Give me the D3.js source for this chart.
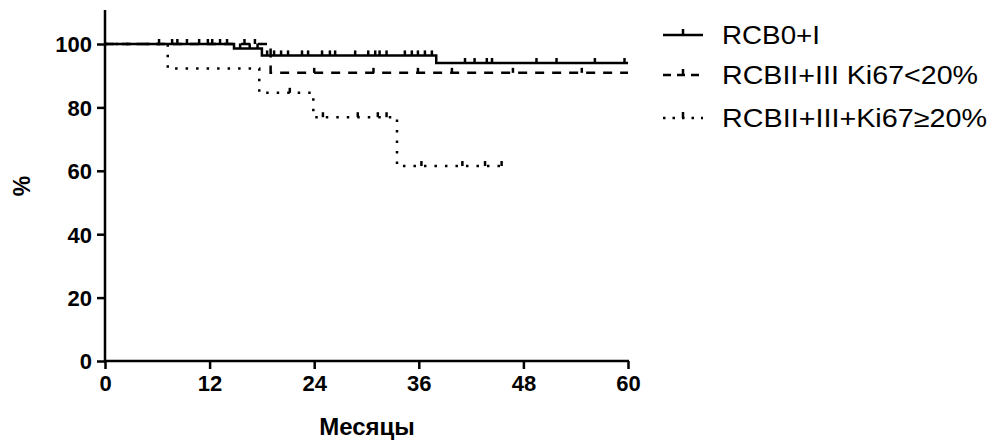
<!DOCTYPE html>
<html><head><meta charset="utf-8">
<script src="https://cdn.jsdelivr.net/npm/d3@7"></script>
<style>body{margin:0;background:#fff}svg{display:block}text{font-family:"Liberation Sans",Arial,sans-serif;fill:#000}</style>
</head><body><svg id="c" width="993" height="443"></svg>
<script>
const xTicks = [0, 12, 24, 36, 48, 60];
const yTicks = [0, 20, 40, 60, 80, 100];
const seriesNames = ["RCB0+I", "RCBII+III Ki67<20%", "RCBII+III+Ki67≥20%"];
// step events: time of drop, survival after drop
const s1Times = [14.8, 18.0, 38.0];
const s1Values = [98.6, 96.4, 94.0];
const s1Censor = [6.2, 7.7, 8.3, 9.4, 10.8, 11.8, 12.3, 13.2, 14.0, 15.5, 16.6, 17.5, 18.6, 19.4, 20.2, 21.0, 22.6, 23.3, 24.9, 25.8, 26.4, 28.7, 30.2, 31.0, 31.5, 32.3, 34.4, 35.2, 35.9, 36.7, 37.5, 41.3, 42.4, 43.8, 44.4, 49.5, 51.8, 56.2, 59.6];
const s1End = 60;
const s2Times = [19.0];
const s2Values = [90.9];
const s2Censor = [16.0, 17.2, 24.0, 30.8, 35.9, 39.8, 46.8, 54.7];
const s2End = 60;
const s3Times = [7.2, 17.7, 23.9, 33.5];
const s3Values = [92.3, 84.6, 76.9, 61.5];
const s3Censor = [21.2, 25.0, 29.0, 31.3, 32.3, 36.3, 41.0, 43.6, 45.5];
const s3End = 45.5;

const series = [
  {name: seriesNames[0], times: s1Times, values: s1Values, censor: s1Censor, end: s1End, dash: null, legDash: null, legLen: 98},
  {name: seriesNames[1], times: s2Times, values: s2Values, censor: s2Censor, end: s2End, dash: "9,8", legDash: "8,6", legLen: 256},
  {name: seriesNames[2], times: s3Times, values: s3Values, censor: s3Censor, end: s3End, dash: "2.5,8", legDash: "2.5,7", legLen: 265}
];

const svg = d3.select("#c");
const x = d3.scaleLinear().domain([0, 60]).range([105, 628]);
const y = d3.scaleLinear().domain([0, 100]).range([361, 44]);

const xAxis = svg.append("g").attr("transform", "translate(0,361)")
  .call(d3.axisBottom(x).tickValues(xTicks).tickSize(8).tickPadding(5));
const yAxis = svg.append("g").attr("transform", "translate(105,0)")
  .call(d3.axisLeft(y).tickValues(yTicks).tickSize(8).tickPadding(5));
[xAxis, yAxis].forEach(a => {
  a.select(".domain").remove();
  a.selectAll("line").attr("stroke", "#000").attr("stroke-width", 2.5);
  a.selectAll("text").attr("font-size", 22).attr("font-weight", "bold").attr("fill", "#000");
});
xAxis.selectAll("text").attr("dy", "0.75em");
yAxis.selectAll("text").attr("dy", "0.36em");
svg.append("line").attr("x1", 105).attr("x2", 105).attr("y1", 10).attr("y2", 362)
  .attr("stroke", "#000").attr("stroke-width", 2.5);
svg.append("line").attr("x1", 104).attr("x2", 629).attr("y1", 361).attr("y2", 361)
  .attr("stroke", "#000").attr("stroke-width", 2.5);

svg.append("text").attr("x", 367).attr("y", 435).attr("text-anchor", "middle")
  .attr("font-size", 24).attr("font-weight", "bold").text("Месяцы");
svg.append("text").attr("transform", "translate(30,186) rotate(-90)").attr("text-anchor", "middle")
  .attr("font-size", 23).attr("font-weight", "bold").text("%");

const surv = (s, t) => { let v = 100; s.times.forEach((tt, i) => { if (t >= tt) v = s.values[i]; }); return v; };

const line = d3.line().x(d => x(d[0])).y(d => y(d[1])).curve(d3.curveStepAfter);
series.forEach(s => {
  const pts = [[0, 100]];
  s.times.forEach((t, i) => pts.push([t, s.values[i]]));
  pts.push([s.end, s.values[s.values.length - 1]]);
  svg.append("path").attr("d", line(pts)).attr("fill", "none").attr("stroke", "#000")
    .attr("stroke-width", 2.5).attr("stroke-dasharray", s.dash);
  svg.append("g").selectAll("line").data(s.censor).join("line")
    .attr("x1", d => x(d)).attr("x2", d => x(d))
    .attr("y1", d => y(surv(s, d))).attr("y2", d => y(surv(s, d)) - 5)
    .attr("stroke", "#000").attr("stroke-width", 2.5);
});

const leg = svg.append("g");
const legY = [35, 75, 118];
series.forEach((s, i) => {
  const ly = legY[i];
  leg.append("line").attr("x1", 663).attr("x2", 703).attr("y1", ly).attr("y2", ly)
    .attr("stroke", "#000").attr("stroke-width", 2.5).attr("stroke-dasharray", s.legDash);
  leg.append("line").attr("x1", 683).attr("x2", 683).attr("y1", ly).attr("y2", ly - 6)
    .attr("stroke", "#000").attr("stroke-width", 2.5);
  leg.append("text").attr("x", 722).attr("y", ly + 9).attr("font-size", 25)
    .attr("textLength", s.legLen).attr("lengthAdjust", "spacingAndGlyphs").text(s.name);
});
</script></body></html>
